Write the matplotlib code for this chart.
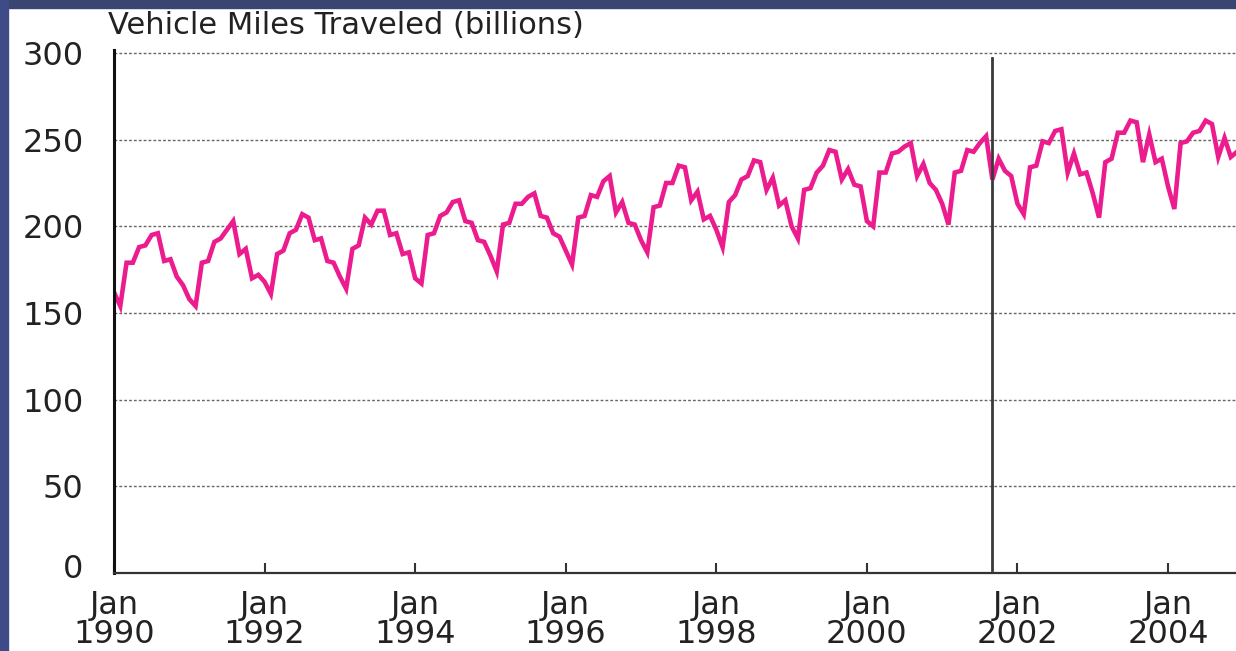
import numpy as np
import matplotlib
matplotlib.use("Agg")
import matplotlib.pyplot as plt
from matplotlib.patches import Rectangle
from matplotlib.transforms import ScaledTranslation

# monthly vehicle miles traveled, billions
vmt_1990 = [162, 154, 179, 179, 188, 189, 195, 196, 180, 181, 171, 166]
vmt_1991 = [158, 154, 179, 180, 191, 193, 198, 203, 184, 187, 170, 172]
vmt_1992 = [168, 161, 184, 186, 196, 198, 207, 205, 192, 193, 180, 179]
vmt_1993 = [171, 164, 187, 189, 205, 201, 209, 209, 195, 196, 184, 185]
vmt_1994 = [170, 167, 195, 196, 206, 208, 214, 215, 203, 202, 192, 191]
vmt_1995 = [183, 174, 201, 202, 213, 213, 217, 219, 206, 205, 196, 194]
vmt_1996 = [186, 178, 205, 206, 218, 217, 226, 229, 208, 214, 202, 201]
vmt_1997 = [192, 185, 211, 212, 225, 225, 235, 234, 215, 220, 204, 206]
vmt_1998 = [198, 188, 214, 218, 227, 229, 238, 237, 221, 228, 212, 215]
vmt_1999 = [200, 193, 221, 222, 231, 235, 244, 243, 227, 233, 224, 223]
vmt_2000 = [203, 200, 231, 231, 242, 243, 246, 248, 229, 236, 225, 221]
vmt_2001 = [213, 201, 231, 232, 244, 243, 248, 252, 227, 239, 232, 229]
vmt_2002 = [213, 207, 234, 235, 249, 248, 255, 256, 231, 242, 230, 231]
vmt_2003 = [219, 205, 237, 239, 254, 254, 261, 260, 237, 253, 237, 239]
vmt_2004 = [223, 210, 248, 249, 254, 255, 261, 259, 240, 251, 240, 243]

all_years = [vmt_1990, vmt_1991, vmt_1992, vmt_1993, vmt_1994, vmt_1995, vmt_1996,
             vmt_1997, vmt_1998, vmt_1999, vmt_2000, vmt_2001, vmt_2002, vmt_2003, vmt_2004]
values = np.concatenate(all_years)
months = 1990 + np.arange(len(values)) / 12.0

tick_years = [1990, 1992, 1994, 1996, 1998, 2000, 2002, 2004]
tick_labels = [f"Jan\n{y}" for y in tick_years]
y_ticks = [0, 50, 100, 150, 200, 250, 300]
sept_2001 = 2001 + 8 / 12.0

W, H = 1236, 651
fig = plt.figure(figsize=(W / 100, H / 100), dpi=100, facecolor="white")

# dark frame along top and left edges
fig.patches.append(Rectangle((0, 1 - 8 / H), 1, 8 / H, transform=fig.transFigure,
                             color="#3a4571", zorder=0))
fig.patches.append(Rectangle((0, 0), 8 / W, 1, transform=fig.transFigure,
                             color="#3e4b86", zorder=0))

ax = fig.add_axes([114 / W, 78 / H, 1 - 114 / W, (573 - 49.5) / H])
ax.set_facecolor("white")

ax.plot(months, values, color="#ec1c8e", linewidth=3.3, solid_joinstyle="miter")
ax.plot([sept_2001, sept_2001], [2, 297], color="#3a3a3a", linewidth=2.0)

ax.set_xlim(1990, 1990 + 1122 / 75.29)
ax.set_ylim(0, 302)

ax.set_yticks(y_ticks)
ax.set_yticklabels([str(v) for v in y_ticks])
ax.set_xticks(tick_years)
ax.set_xticklabels(tick_labels, linespacing=0.95)

ax.yaxis.grid(True, linestyle=(0, (2, 1.5)), color="#666666", linewidth=1.0)
ax.tick_params(axis="y", length=0, pad=22, labelsize=23, labelcolor="#222222")
ax.tick_params(axis="x", direction="in", length=7, width=1.5, color="#333333",
               pad=12, labelsize=23, labelcolor="#222222")
for lab in ax.get_yticklabels() + ax.get_xticklabels():
    lab.set_family("DejaVu Sans")

# the zero label sits a little above the axis line
zero_lab = ax.get_yticklabels()[0]
zero_lab.set_transform(zero_lab.get_transform() + ScaledTranslation(0, 7 / 100, fig.dpi_scale_trans))

ax.spines["top"].set_visible(False)
ax.spines["right"].set_visible(False)
ax.spines["left"].set_linewidth(2.2)
ax.spines["left"].set_color("#111111")
ax.spines["bottom"].set_linewidth(1.6)
ax.spines["bottom"].set_color("#333333")

fig.text(108 / W, 1 - 34 / H, "Vehicle Miles Traveled (billions)", fontsize=22,
         family="DejaVu Sans", color="#222222", ha="left", va="baseline")

fig.savefig("out.png", dpi=100, facecolor=fig.get_facecolor())
